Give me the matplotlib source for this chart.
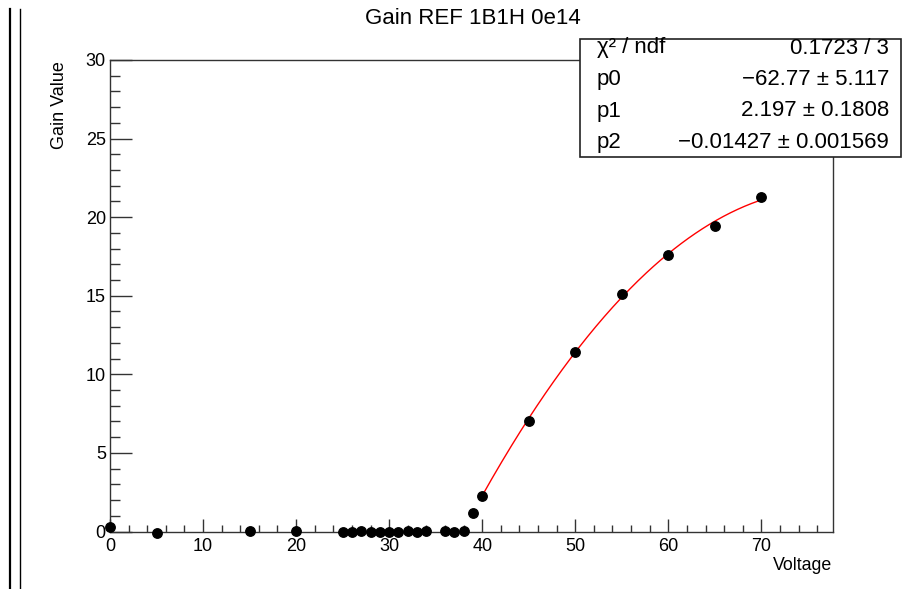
#! /usr/bin/env python

# import modules
# --------------
import numpy
import matplotlib
matplotlib.use('Agg')
import matplotlib.pyplot
from matplotlib.patches import Rectangle
from matplotlib.lines import Line2D
from matplotlib.ticker import MultipleLocator

# data --
voltage = [0, 5, 15, 20, 25, 26, 27, 28, 29, 30, 31, 32, 33, 34, 36, 37, 38,
           39, 40, 45, 50, 55, 60, 65, 70]
gain = [0.3, -0.08, 0.03, 0.05, -0.05, -0.02, 0.05, -0.03, 0.0, -0.02, -0.05,
        0.03, -0.02, 0.03, 0.02, -0.06, 0.03,
        1.2, 2.28, 7.04, 11.39, 15.13, 17.6, 19.46, 21.29]

# fit result (pol2) --
fit_range = (40, 70)
p0, p1, p2 = -62.77, 2.197, -0.01427
stats_labels = ['\u03c7\u00b2 / ndf', 'p0', 'p1', 'p2']
stats_values = ['0.1723 / 3', '\u221262.77 \u00b1 5.117',
                '2.197 \u00b1 0.1808', '\u22120.01427 \u00b1 0.001569']

title = 'Gain REF 1B1H 0e14'
xlabel = 'Voltage'
ylabel = 'Gain Value'

# style --
matplotlib.rcParams['font.family'] = ['Liberation Sans', 'DejaVu Sans']

W, H = 904, 589
fig = matplotlib.pyplot.figure(figsize=(W / 100, H / 100), dpi=100)


def fx(px):
    return px / W


def fy(py):
    return 1 - py / H


# define axes --
ax = fig.add_axes([fx(110), fy(531.5), fx(833) - fx(110), fy(60) - fy(531.5)])

# plot --
xf = numpy.linspace(fit_range[0], fit_range[1], 200)
ax.plot(xf, numpy.polyval([p2, p1, p0], xf), color='red', lw=1.0, zorder=2)
ax.plot(voltage, gain, ls='none', marker='o', ms=6.8, color='black',
        clip_on=False, zorder=3)

# axes settings --
ax.set_xlim(0, 77.7)
ax.set_ylim(0, 30)
ax.xaxis.set_major_locator(MultipleLocator(10))
ax.xaxis.set_minor_locator(MultipleLocator(2))
ax.yaxis.set_major_locator(MultipleLocator(5))
ax.yaxis.set_minor_locator(MultipleLocator(1))
ax.tick_params(axis='both', which='both', direction='in', labelsize=13,
               color='#333333', width=1.0)
ax.tick_params(axis='x', which='major', length=9.1, pad=4.5)
ax.tick_params(axis='x', which='minor', length=4.8)
ax.tick_params(axis='y', which='major', length=15.6, pad=3)
ax.tick_params(axis='y', which='minor', length=7.2)
for s in ax.spines.values():
    s.set_color('#333333')
    s.set_linewidth(1.0)

# labels --
fig.text(fx(473), fy(19), title, ha='center', va='center', fontsize=16)
fig.text(fx(832), fy(565), xlabel, ha='right', va='center', fontsize=12.8)
fig.text(fx(60), fy(61), ylabel, ha='center', va='top', rotation=90,
         fontsize=13)

# stats box --
fig.patches.append(Rectangle((fx(580), fy(157)), fx(901) - fx(580),
                             fy(39) - fy(157), transform=fig.transFigure,
                             facecolor='white', edgecolor='#222222', lw=1.2,
                             zorder=5))
rows = [48, 80, 111, 142]
for yy, lab, val in zip(rows, stats_labels, stats_values):
    fig.text(fx(597), fy(yy), lab, ha='left', va='center', fontsize=16,
             zorder=6)
    fig.text(fx(889), fy(yy), val, ha='right', va='center', fontsize=16,
             zorder=6)

# frame lines on the left --
fig.lines.append(Line2D([fx(9.5), fx(9.5)], [fy(9), 0], transform=fig.transFigure,
                        color='black', lw=1.6))
fig.lines.append(Line2D([fx(20.5), fx(20.5)], [fy(9), 0], transform=fig.transFigure,
                        color='black', lw=1.0))

fig.savefig('out.png', dpi=100)
